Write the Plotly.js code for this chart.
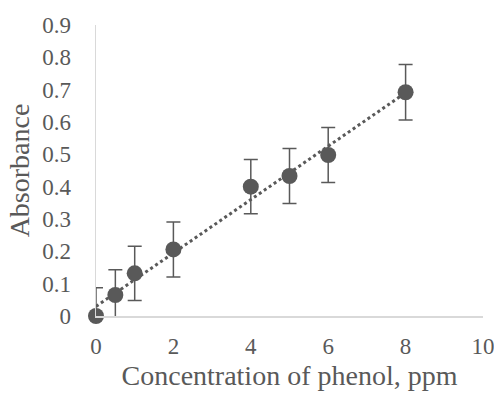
<!DOCTYPE html>
<html>
<head>
<meta charset="utf-8">
<script src="https://cdn.plot.ly/plotly-3.0.1.min.js"></script>
<style>html,body{margin:0;padding:0;background:#fff;}#chart{width:494px;height:394px;}</style>
</head>
<body>
<div id="chart"></div>
<script>
// Data
const concentration = [0, 0.5, 1, 2, 4, 5, 6, 8];          // ppm
const absorbance    = [0, 0.065, 0.132, 0.206, 0.400, 0.433, 0.498, 0.692];
const errorValues   = [0.087, 0.078, 0.084, 0.085, 0.084, 0.085, 0.085, 0.086];
const xTickVals = [0, 2, 4, 6, 8, 10];
const yTickVals = [0, 0.1, 0.2, 0.3, 0.4, 0.5, 0.6, 0.7, 0.8, 0.9];
const yTickText = ['0', '0.1', '0.2', '0.3', '0.4', '0.5', '0.6', '0.7', '0.8', '0.9'];

// Linear trendline (least squares) derived from the data
const n = concentration.length;
const mx = concentration.reduce((a, b) => a + b, 0) / n;
const my = absorbance.reduce((a, b) => a + b, 0) / n;
let sxy = 0, sxx = 0;
for (let i = 0; i < n; i++) {
  sxy += (concentration[i] - mx) * (absorbance[i] - my);
  sxx += (concentration[i] - mx) ** 2;
}
const slope = sxy / sxx;
const intercept = my - slope * mx;
const trendX = [concentration[0], concentration[n - 1]];
const trendY = trendX.map(x => intercept + slope * x);

const grey = '#595959';
const font = 'Liberation Serif, Times New Roman, serif';

const traces = [
  {
    x: trendX, y: trendY, type: 'scatter', mode: 'lines',
    line: {color: grey, width: 3, dash: 'dot'},
    hoverinfo: 'skip', cliponaxis: true
  },
  {
    x: concentration, y: absorbance, type: 'scatter', mode: 'markers',
    marker: {size: 16, color: 'rgba(0,0,0,0)'},
    error_y: {type: 'data', array: errorValues, visible: true, color: grey, thickness: 1.5, width: 7},
    cliponaxis: true, hoverinfo: 'skip'
  },
  {
    x: concentration, y: absorbance, type: 'scatter', mode: 'markers',
    marker: {size: 16, color: grey},
    cliponaxis: false
  }
];

const layout = {
  width: 494, height: 394,
  margin: {l: 96, r: 11, t: 25, b: 78},
  paper_bgcolor: '#fff', plot_bgcolor: '#fff',
  showlegend: false,
  font: {family: font, color: grey},
  xaxis: {
    range: [0, 10], tickvals: xTickVals, showgrid: false, zeroline: false,
    showline: true, linecolor: '#d9d9d9', linewidth: 1.5,
    ticks: 'outside', ticklen: 9, tickcolor: 'rgba(0,0,0,0)',
    ticklabeloverflow: 'allow',
    tickfont: {family: font, size: 23, color: grey},
    title: {text: 'Concentration of phenol, ppm', font: {family: font, size: 28, color: grey}, standoff: 7},
    automargin: false, fixedrange: true
  },
  yaxis: {
    range: [0, 0.9], tickvals: yTickVals, ticktext: yTickText, showgrid: false, zeroline: false,
    showline: true, linecolor: '#d9d9d9', linewidth: 1.5,
    ticks: 'outside', ticklen: 19, tickcolor: 'rgba(0,0,0,0)',
    ticklabeloverflow: 'allow',
    tickfont: {family: font, size: 23, color: grey},
    title: {text: 'Absorbance', font: {family: font, size: 28, color: grey}, standoff: 4},
    automargin: false, fixedrange: true
  }
};

Plotly.newPlot('chart', traces, layout, {staticPlot: true, displayModeBar: false});
</script>
</body>
</html>
